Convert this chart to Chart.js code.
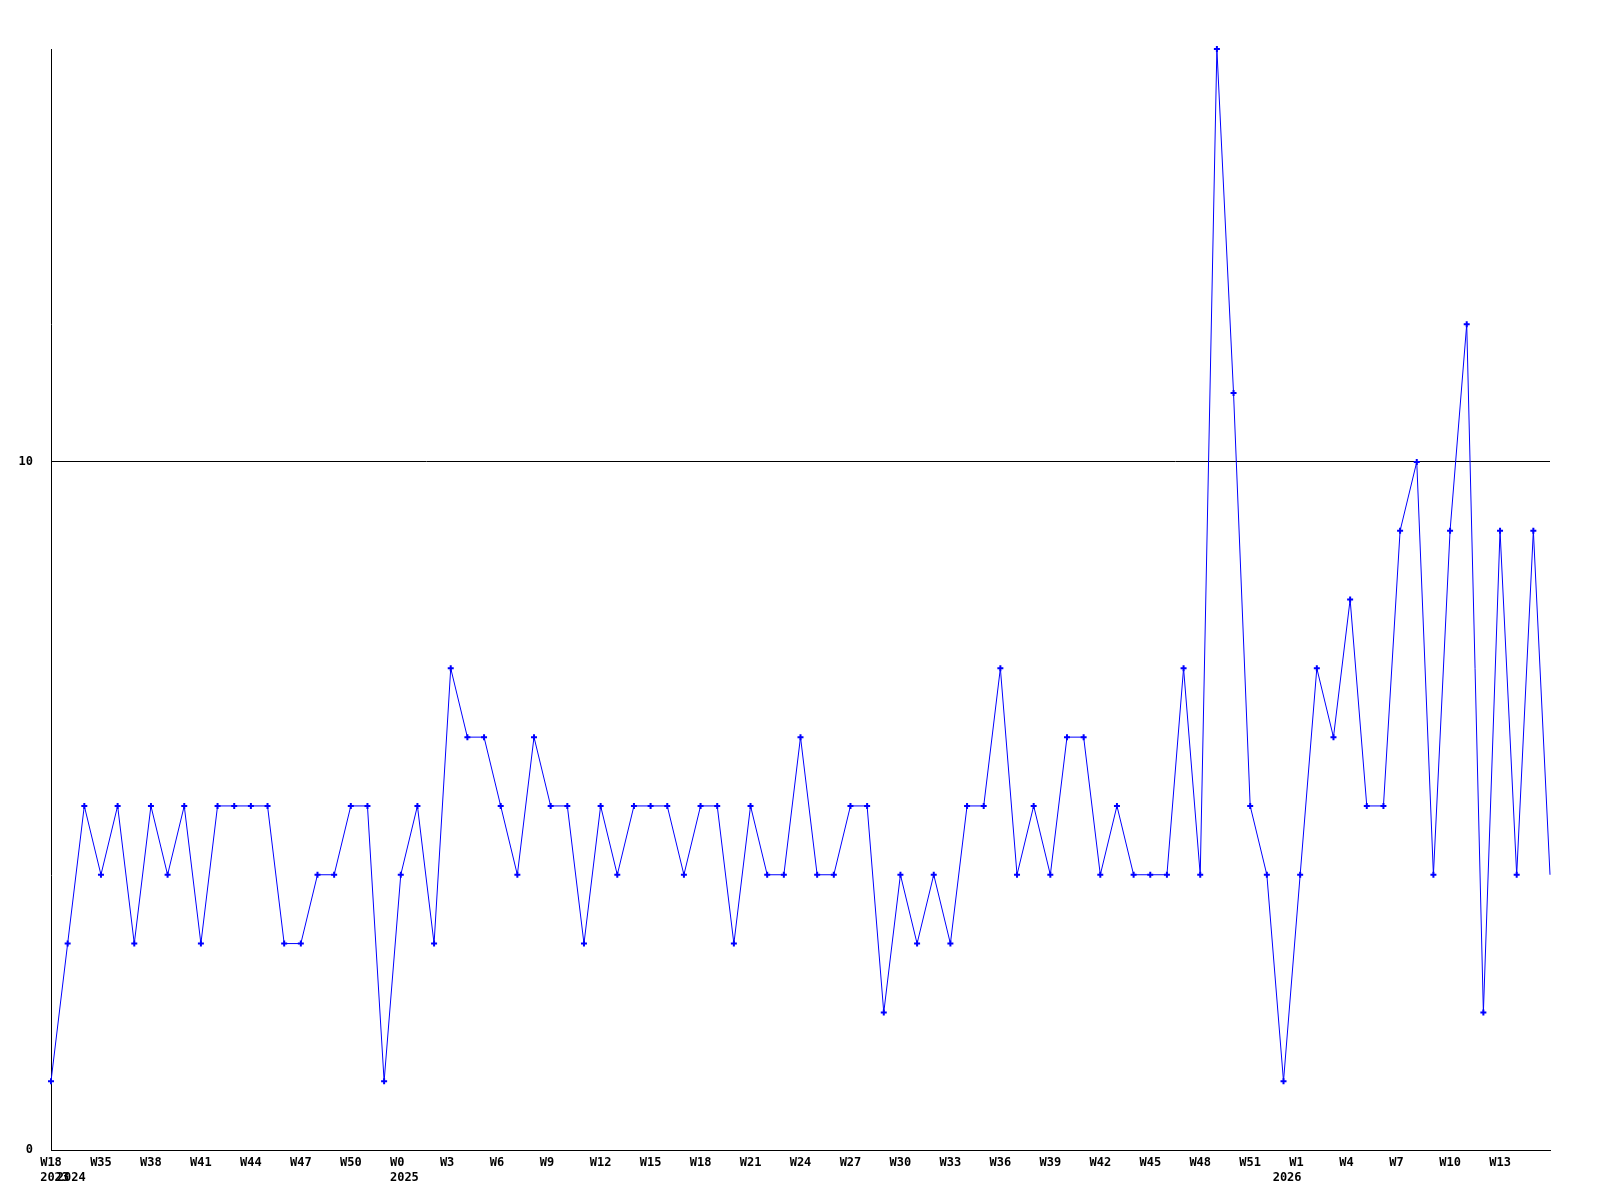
<!DOCTYPE html>
<html>
<head>
<meta charset="utf-8">
<title>Weekly count</title>
<script src="https://cdn.jsdelivr.net/npm/chart.js@4/dist/chart.umd.min.js"></script>
<style>
    body { margin: 0; background: #ffffff; }
    #wrap { width: 1600px; height: 1200px; }
</style>
</head>
<body>
<div id="wrap"><canvas id="weekly-chart" width="1600" height="1200"></canvas></div>
<script>
// week labels, one per point
const weekLabels = [
    'W18',
    'W33', 'W34', 'W35', 'W36', 'W37', 'W38', 'W39', 'W40', 'W41', 'W42',
    'W43', 'W44', 'W45', 'W46', 'W47', 'W48', 'W49', 'W50', 'W51', 'W52',
    'W0', 'W1', 'W2', 'W3', 'W4', 'W5', 'W6', 'W7', 'W8', 'W9',
    'W10', 'W11', 'W12', 'W13', 'W14', 'W15', 'W16', 'W17', 'W18', 'W19',
    'W20', 'W21', 'W22', 'W23', 'W24', 'W25', 'W26', 'W27', 'W28', 'W29',
    'W30', 'W31', 'W32', 'W33', 'W34', 'W35', 'W36', 'W37', 'W38', 'W39',
    'W40', 'W41', 'W42', 'W43', 'W44', 'W45', 'W46', 'W47', 'W48', 'W49',
    'W50', 'W51', 'W52',
    'W0', 'W1', 'W2', 'W3', 'W4', 'W5', 'W6', 'W7', 'W8', 'W9',
    'W10', 'W11', 'W12', 'W13', 'W14', 'W15', 'W16'
];

// where a new year starts
const yearIndexes = [0, 1, 21, 74];
const yearLabels = ['2023', '2024', '2025', '2026'];

const counts = [
    1, 3, 5, 4, 5, 3, 5, 4, 5, 3,
    5, 5, 5, 5, 3, 3, 4, 4, 5, 5,
    1, 4, 5, 3, 7, 6, 6, 5, 4, 6,
    5, 5, 3, 5, 4, 5, 5, 5, 4, 5,
    5, 3, 5, 4, 4, 6, 4, 4, 5, 5,
    2, 4, 3, 4, 3, 5, 5, 7, 4, 5,
    4, 6, 6, 4, 5, 4, 4, 4, 7, 4,
    16, 11, 5, 4, 1, 4, 7, 6, 8, 5,
    5, 9, 10, 4, 9, 12, 2, 9, 4, 9,
    4
];

const yTicks = [0, 10];

const labelFont = {
    family: "'DejaVu Sans Mono', 'Liberation Mono', monospace",
    size: 12,
    weight: 'bold',
    lineHeight: 1.25
};

const getTickLabel = function(index){
    let week = '';
    let year = '';

    // every third week, but not the last point at the right edge
    if(index % 3 === 0 && index < weekLabels.length - 1){
        week = weekLabels[index].padEnd(3, ' ');
    }

    let yearPos = yearIndexes.indexOf(index);
    if(yearPos >= 0){
        year = ' ' + yearLabels[yearPos];
    }

    if(week === '' && year === ''){
        return '';
    }
    return [week, year];
}

let ctx = document.getElementById('weekly-chart');

let weeklyChart = new Chart(ctx, {
    type: 'line',
    data: {
        labels: weekLabels,
        datasets: [{
            data: counts,
            borderColor: '#0000ff',
            backgroundColor: '#0000ff',
            borderWidth: 1,
            tension: 0,
            fill: false,
            clip: false,
            pointStyle: 'cross',
            pointRadius: (c) => c.dataIndex === counts.length - 1 ? 0 : 3,
            pointBorderWidth: 2,
            pointBorderColor: '#0000ff'
        }]
    },
    options: {
        responsive: false,
        animation: false,
        layout: {
            padding: { top: 49, right: 50, left: 0, bottom: 0 }
        },
        plugins: {
            legend: { display: false },
            tooltip: { enabled: false }
        },
        scales: {
            x: {
                type: 'category',
                offset: false,
                grid: { display: false, drawTicks: false },
                border: { display: true, color: '#000000', width: 1 },
                ticks: {
                    autoSkip: false,
                    maxRotation: 0,
                    minRotation: 0,
                    padding: 5,
                    color: '#000000',
                    font: labelFont,
                    callback: function(value, index){
                        return getTickLabel(index);
                    }
                },
                afterFit: function(scale){
                    scale.height = 50;
                }
            },
            y: {
                min: 0,
                max: 16,
                grid: {
                    drawTicks: false,
                    color: (c) => c.tick && c.tick.value === 10 ? '#000000' : 'rgba(0,0,0,0)',
                    lineWidth: 1
                },
                border: { display: true, color: '#000000', width: 1 },
                ticks: {
                    padding: 18,
                    color: '#000000',
                    font: labelFont
                },
                afterBuildTicks: function(scale){
                    scale.ticks = yTicks.map(v => ({ value: v }));
                },
                afterFit: function(scale){
                    scale.width = 51;
                }
            }
        }
    }
});
</script>
</body>
</html>
